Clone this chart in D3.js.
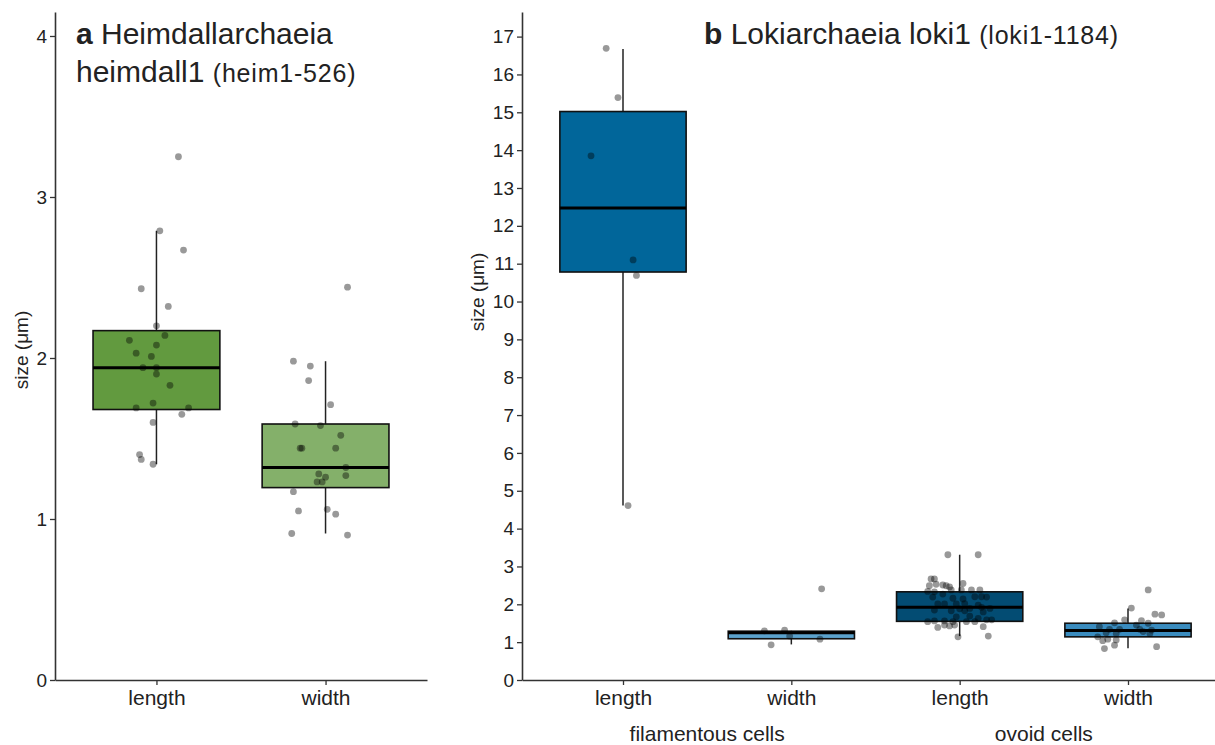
<!DOCTYPE html>
<html>
<head>
<meta charset="utf-8">
<script src="https://cdn.jsdelivr.net/npm/d3@7"></script>
<style>
  body { margin: 0; background: #fff; }
  text { font-family: "Liberation Sans", Arial, sans-serif; fill: #222; }
</style>
</head>
<body>
<script>
// panel a: Heimdallarchaeia heimdall1
var catsA = ["length", "width"];
var colorsA = ["#629a3f", "#84b06a"];
// box stats: [whisker low, q1, median, q3, whisker high]
var boxesA = [
  [1.34, 1.68, 1.94, 2.17, 2.79],
  [0.91, 1.195, 1.32, 1.59, 1.98]
];
var pointsA = [
  [3.25, 2.79, 2.67, 2.43, 2.32, 2.20, 2.14, 2.11, 2.08, 2.03, 2.01, 1.94, 1.94, 1.90, 1.83, 1.72, 1.69, 1.69, 1.65, 1.60, 1.40, 1.37, 1.34],
  [2.44, 1.98, 1.95, 1.86, 1.71, 1.59, 1.58, 1.52, 1.44, 1.44, 1.44, 1.32, 1.28, 1.26, 1.27, 1.23, 1.23, 1.17, 1.05, 1.06, 1.03, 0.91, 0.90]
];
// horizontal jitter, in category steps
var jitterA = [
  [0.13, 0.02, 0.16, -0.09, 0.07, 0, 0.05, -0.16, 0, -0.12, -0.03, -0.08, 0, 0, 0.08, -0.02, -0.12, 0.19, 0.15, -0.02, -0.10, -0.09, -0.02],
  [0.13, -0.19, -0.09, -0.10, 0.03, -0.18, -0.03, 0.09, -0.15, -0.14, 0.06, 0.12, -0.04, 0, 0.12, -0.05, -0.02, -0.19, -0.16, 0.01, 0.06, -0.20, 0.13]
];

// panel b: Lokiarchaeia loki1
var catsB = ["fil_length", "fil_width", "ov_length", "ov_width"];
var labelsB = ["length", "width", "length", "width"];
var groupsB = ["filamentous cells", "ovoid cells"];
var colorsB = ["#01669a", "#5ba2cc", "#034c73", "#3a8cbf"];
var boxesB = [
  [4.61, 10.78, 12.47, 15.02, 16.67],
  [0.94, 1.09, 1.25, 1.29, 1.30],
  [1.16, 1.55, 1.92, 2.33, 3.31],
  [0.84, 1.14, 1.31, 1.50, 1.89]
];
var pointsB = [
  [16.69, 15.39, 13.85, 11.10, 10.69, 4.61],
  [2.41, 1.30, 1.32, 1.16, 0.93, 1.08],
  [3.31, 3.31, 2.67, 2.67, 2.49, 2.53, 2.51, 2.49, 2.46, 2.55, 2.34, 2.33, 2.38, 2.38, 2.38, 2.38, 2.19, 2.27, 2.16, 2.14, 2.20, 2.20, 2.19,
   2.01, 2.01, 2.01, 2.02, 1.98, 1.92, 1.89, 1.88, 1.83, 1.89, 1.85, 1.83, 1.80, 1.67, 1.69, 1.63, 1.54, 1.56, 1.56, 1.54, 1.54, 1.54, 1.59, 1.59,
   1.39, 1.45, 1.43, 1.45, 1.41, 1.14, 1.16],
  [2.38, 1.90, 1.74, 1.72, 1.59, 1.57, 1.50, 1.51, 1.41, 1.34, 1.34, 1.45, 1.34, 1.32, 1.25, 1.23, 1.28, 1.23, 1.14, 1.04, 1.08, 1.06, 0.92, 0.83, 0.88]
];
var jitterB = [
  [-0.10, -0.03, -0.19, 0.06, 0.08, 0.03],
  [0.18, -0.16, -0.04, -0.01, -0.12, 0.17],
  [-0.07, 0.11, -0.17, -0.15, -0.18, -0.14, -0.10, -0.08, -0.06, 0.02, -0.19, -0.15, -0.05, 0.01, 0.07, 0.12, -0.16, -0.10, -0.04, 0.02, 0.09, 0.13, 0.16,
   -0.13, -0.09, -0.02, 0.03, 0.11, 0.13, 0.18, 0.00, 0.03, 0.06, -0.15, -0.05, 0.14, -0.02, 0.06, 0.11, -0.19, -0.15, -0.09, -0.04, 0.04, 0.09, 0.16, 0.19,
   -0.13, -0.09, -0.06, -0.03, 0.14, -0.01, 0.17],
  [0.12, 0.02, 0.16, 0.20, -0.02, 0.08, 0.12, -0.08, -0.17, -0.11, -0.05, 0.05, 0.07, 0.14, -0.13, -0.07, 0.09, 0.13, -0.18, -0.15, -0.12, -0.07, -0.08, -0.14, 0.17]
];
var ticksA = [0, 1, 2, 3, 4];
var ticksB = d3.range(0, 18);

var svg = d3.select("body").append("svg")
    .attr("width", 1215)
    .attr("height", 745);

function drawPanel(opt) {
  var x = d3.scalePoint().domain(opt.cats).range(opt.xRange).padding(0.6);
  var y = d3.scaleLinear().domain(opt.yDomain).range([680, 12]);
  var step = x.step();
  var bw = step * 0.75;
  var g = svg.append("g");

  // boxes
  var box = g.selectAll(".box").data(opt.cats).enter().append("g");
  box.append("line")
      .attr("x1", function(d) { return x(d); })
      .attr("x2", function(d) { return x(d); })
      .attr("y1", function(d, i) { return y(opt.boxes[i][0]); })
      .attr("y2", function(d, i) { return y(opt.boxes[i][4]); })
      .attr("stroke", "#222")
      .attr("stroke-width", 1.5);
  box.append("rect")
      .attr("x", function(d) { return x(d) - bw / 2; })
      .attr("width", bw)
      .attr("y", function(d, i) { return y(opt.boxes[i][3]); })
      .attr("height", function(d, i) { return y(opt.boxes[i][1]) - y(opt.boxes[i][3]); })
      .attr("fill", function(d, i) { return opt.colors[i]; })
      .attr("stroke", "#111")
      .attr("stroke-width", 1.6);
  box.append("line")
      .attr("x1", function(d) { return x(d) - bw / 2; })
      .attr("x2", function(d) { return x(d) + bw / 2; })
      .attr("y1", function(d, i) { return y(opt.boxes[i][2]); })
      .attr("y2", function(d, i) { return y(opt.boxes[i][2]); })
      .attr("stroke", "#000")
      .attr("stroke-width", 3);

  // jittered points
  opt.cats.forEach(function(c, i) {
    g.append("g").selectAll("circle")
        .data(opt.points[i])
        .enter()
      .append("circle")
        .attr("cx", function(d, j) { return x(c) + opt.jitter[i][j] * step; })
        .attr("cy", function(d) { return y(d); })
        .attr("r", 3.4)
        .attr("fill", "#000")
        .attr("fill-opacity", 0.4);
  });

  // axes
  var ya = g.append("g")
      .attr("transform", "translate(" + opt.xRange[0] + ",0)")
      .call(d3.axisLeft(y).tickValues(opt.ticks).tickFormat(d3.format("d"))
        .tickSize(5).tickSizeOuter(0).tickPadding(3));
  var xa = g.append("g")
      .attr("transform", "translate(0,680)")
      .call(d3.axisBottom(x).tickSize(5).tickSizeOuter(0).tickPadding(5)
        .tickFormat(function(d, i) { return opt.labels[i]; }));
  [ya, xa].forEach(function(a) {
    a.select(".domain").attr("stroke", "#333").attr("stroke-width", 1.6);
    a.selectAll(".tick line").attr("stroke", "#333").attr("stroke-width", 1.3);
    a.selectAll("text").style("fill", "#222");
  });
  ya.selectAll("text").style("font-size", "19px");
  xa.selectAll("text").style("font-size", "21px");

  g.append("text")
      .attr("transform", "translate(" + opt.yLabelX + "," + opt.yLabelY + ") rotate(-90)")
      .attr("text-anchor", "middle")
      .style("font-size", "19px")
      .text("size (μm)");
  return x;
}

drawPanel({
  cats: catsA, labels: catsA, colors: colorsA, boxes: boxesA, points: pointsA, jitter: jitterA,
  xRange: [55, 427], yDomain: [0, 4.149], ticks: ticksA, yLabelX: 28, yLabelY: 350
});

var xB = drawPanel({
  cats: catsB, labels: labelsB, colors: colorsB, boxes: boxesB, points: pointsB, jitter: jitterB,
  xRange: [522, 1229], yDomain: [0, 17.65], ticks: ticksB, yLabelX: 484, yLabelY: 292
});

// group labels under panel b
svg.selectAll(".grp").data(groupsB).enter().append("text")
    .attr("x", function(d, i) { return (xB(catsB[i * 2]) + xB(catsB[i * 2 + 1])) / 2; })
    .attr("y", 741)
    .attr("text-anchor", "middle")
    .style("font-size", "21px")
    .text(function(d) { return d; });

// titles
var tA1 = svg.append("text").attr("x", 76).attr("y", 44).style("font-size", "30px");
tA1.append("tspan").style("font-weight", "bold").text("a");
tA1.append("tspan").text(" Heimdallarchaeia");
var tA2 = svg.append("text").attr("x", 76).attr("y", 82).style("font-size", "30px");
tA2.append("tspan").text("heimdall1 ");
tA2.append("tspan").style("font-size", "25px").style("letter-spacing", "0.8px").text("(heim1-526)");

var tB = svg.append("text").attr("x", 704).attr("y", 44).style("font-size", "30px");
tB.append("tspan").style("font-weight", "bold").text("b");
tB.append("tspan").text(" Lokiarchaeia loki1 ");
tB.append("tspan").style("font-size", "25px").style("letter-spacing", "0.8px").text("(loki1-1184)");
</script>
</body>
</html>
